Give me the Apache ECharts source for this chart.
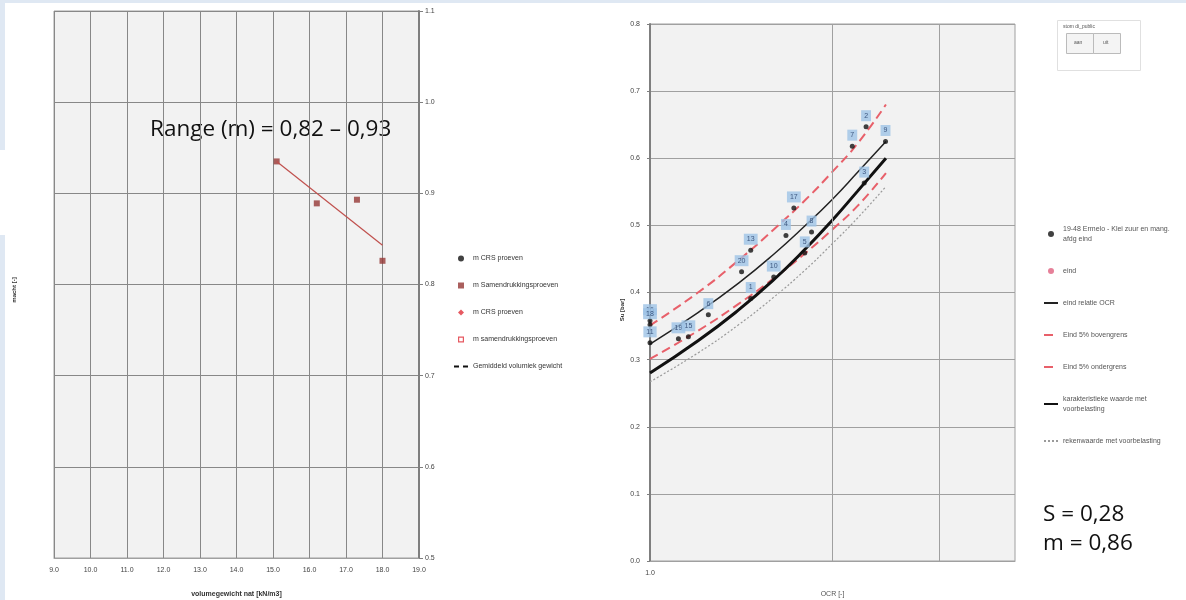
<!DOCTYPE html>
<html>
<head>
<meta charset="utf-8">
<script src="https://cdn.jsdelivr.net/npm/echarts@6/dist/echarts.min.js"></script>
<style>
  html, body { margin: 0; padding: 0; background: #fff; }
  #chart { width: 1186px; height: 600px; }
</style>
</head>
<body>
<div id="chart"></div>
<script>
// ---- links: macht m tegen volumegewicht ----
const densX = [15.1, 16.2, 17.3, 18.0];
const machtM = [0.935, 0.889, 0.893, 0.826];
const trendX = [15.1, 18.0];
const trendM = [0.935, 0.843];

// ---- rechts: Su tegen OCR ----
const ptOcr = [1.0, 1.0, 1.0, 1.114, 1.157, 1.248, 1.416, 1.466, 1.466, 1.60, 1.676, 1.727, 1.80, 1.847, 2.156, 2.272, 2.256, 2.446];
const ptSu  = [0.358, 0.352, 0.325, 0.331, 0.334, 0.367, 0.431, 0.463, 0.391, 0.423, 0.485, 0.526, 0.459, 0.490, 0.618, 0.647, 0.563, 0.625];
const ptNr  = ['16', '18', '11', '19', '15', '6', '20', '13', '1', '10', '4', '17', '5', '8', '7', '2', '3', '9'];

const curveOcr = [1.0, 1.2, 1.4, 1.6, 1.8, 2.0, 2.2, 2.45];
const eindRel  = [0.323, 0.370, 0.414, 0.457, 0.499, 0.539, 0.579, 0.625];
const eindBoven = [0.351, 0.400, 0.448, 0.494, 0.537, 0.580, 0.622, 0.680];
const eindOnder = [0.301, 0.343, 0.383, 0.421, 0.458, 0.494, 0.529, 0.578];
const karakt   = [0.280, 0.328, 0.374, 0.419, 0.464, 0.508, 0.551, 0.600];
const reken    = [0.267, 0.310, 0.352, 0.393, 0.433, 0.473, 0.511, 0.558];
const extraGridOcr = [2, 3];

const zip = (a, b) => a.map((v, i) => [v, b[i]]);
const small = { fontFamily: 'Liberation Sans', fontSize: 7, color: '#444' };
const gridCol = '#a0a0a0';
const squareIcon = 'path://M0,0h10v10h-10z';
const hollowSquareIcon = 'path://M0,0h10v10h-10z M2,2v6h6v-6z';
const diamondIcon = 'path://M5,0L10,5L5,10L0,5z';
const noSymbol = { opacity: 0 };

let myChart = echarts.init(document.getElementById('chart'));
const option = {
  animation: false,
  textStyle: { fontFamily: 'Liberation Sans' },
  grid: [
    { left: 54, top: 11, width: 365, height: 547, outerBoundsMode: 'none', show: true, backgroundColor: '#f2f2f2', borderColor: gridCol, borderWidth: 1 },
    { left: 650, top: 24, width: 365, height: 537, outerBoundsMode: 'none', show: true, backgroundColor: '#f2f2f2', borderColor: gridCol, borderWidth: 1 }
  ],
  xAxis: [
    {
      gridIndex: 0, type: 'value', min: 9, max: 19, interval: 1,
      name: 'volumegewicht nat [kN/m3]', nameLocation: 'middle', nameGap: 33,
      nameTextStyle: { fontSize: 7, fontWeight: 'bold', color: '#333' },
      axisLine: { show: true, lineStyle: { color: gridCol } },
      axisTick: { show: false },
      axisLabel: Object.assign({ margin: 9, formatter: v => v.toFixed(1) }, small),
      splitLine: { show: true, lineStyle: { color: '#888', width: 1 } }
    },
    {
      gridIndex: 1, type: 'log', logBase: 10, min: 1, max: 4,
      name: 'OCR [-]', nameLocation: 'middle', nameGap: 30,
      nameTextStyle: { fontSize: 7, color: '#555' },
      axisLine: { show: true, lineStyle: { color: gridCol } },
      axisTick: { show: false },
      axisLabel: Object.assign({ margin: 9, formatter: v => (v === 1 ? '1.0' : '') }, small),
      splitLine: { show: false }
    }
  ],
  yAxis: [
    {
      gridIndex: 0, type: 'value', min: 0.5, max: 1.1, interval: 0.1, position: 'right',
      axisLine: { show: true, lineStyle: { color: '#7f7f7f', width: 2 } },
      axisTick: { show: true, length: 4, lineStyle: { color: '#7f7f7f' } },
      axisLabel: Object.assign({ margin: 6, formatter: v => v.toFixed(1) }, small),
      splitLine: { show: true, lineStyle: { color: '#888', width: 1 } }
    },
    {
      gridIndex: 1, type: 'value', min: 0, max: 0.8, interval: 0.1,
      axisLine: { show: true, lineStyle: { color: '#7f7f7f', width: 2 } },
      axisTick: { show: true, length: 3, lineStyle: { color: '#7f7f7f' } },
      axisLabel: Object.assign({ margin: 10, formatter: v => v.toFixed(1) }, small),
      splitLine: { show: true, lineStyle: { color: gridCol, width: 1 } }
    }
  ],
  legend: [
    {
      left: 448, top: 249, orient: 'vertical', itemGap: 18, itemWidth: 14, itemHeight: 6,
      textStyle: { fontSize: 7, color: '#333', lineHeight: 9 },
      data: [
        { name: 'm CRS proeven', icon: 'circle' },
        { name: 'm Samendrukkingsproeven', icon: squareIcon },
        { name: 'm CRS proeven ', icon: diamondIcon },
        { name: 'm samendrukkingsproeven', icon: hollowSquareIcon },
        { name: 'Gemiddeld volumiek gewicht', itemStyle: noSymbol }
      ]
    },
    {
      left: 1038, top: 219, orient: 'vertical', itemGap: 22, itemWidth: 14, itemHeight: 6,
      textStyle: { fontSize: 7, color: '#555', width: 122, overflow: 'break', lineHeight: 10 },
      data: [
        { name: '19-48 Ermelo - Klei zuur en mang. afdg eind', icon: 'circle' },
        { name: 'eind', icon: 'circle' },
        { name: 'eind relatie OCR', itemStyle: noSymbol },
        { name: 'Eind 5% bovengrens', itemStyle: noSymbol },
        { name: 'Eind 5% ondergrens', itemStyle: noSymbol },
        { name: 'karakteristieke waarde met voorbelasting', itemStyle: noSymbol },
        { name: 'rekenwaarde met voorbelasting', itemStyle: noSymbol }
      ]
    }
  ],
  series: [
    // links
    { name: 'm CRS proeven', type: 'scatter', xAxisIndex: 0, yAxisIndex: 0, symbol: 'circle', symbolSize: 5, itemStyle: { color: '#111' }, data: [] },
    { name: 'trend', type: 'line', xAxisIndex: 0, yAxisIndex: 0, symbol: 'none', lineStyle: { color: '#c0504d', width: 1.2 }, data: zip(trendX, trendM) },
    { name: 'm Samendrukkingsproeven', type: 'scatter', xAxisIndex: 0, yAxisIndex: 0, symbol: 'rect', symbolSize: 6, itemStyle: { color: '#953735' }, data: zip(densX, machtM) },
    { name: 'm CRS proeven ', type: 'scatter', xAxisIndex: 0, yAxisIndex: 0, symbol: 'diamond', symbolSize: 8, itemStyle: { color: '#e0303a' }, data: [] },
    { name: 'm samendrukkingsproeven', type: 'scatter', xAxisIndex: 0, yAxisIndex: 0, symbol: 'rect', symbolSize: 7, itemStyle: { color: '#e0303a' }, data: [] },
    { name: 'Gemiddeld volumiek gewicht', type: 'line', xAxisIndex: 0, yAxisIndex: 0, symbol: 'none', itemStyle: { color: '#111' }, lineStyle: { color: '#111', width: 1.5, type: [5, 4] }, data: [] },
    // rechts
    {
      name: 'rekenwaarde met voorbelasting', type: 'line', xAxisIndex: 1, yAxisIndex: 1, symbol: 'none', smooth: true,
      itemStyle: { color: '#9a9a9a' },
      lineStyle: { color: '#9a9a9a', width: 1.2, type: [2, 2] }, data: zip(curveOcr, reken),
      markLine: {
        silent: true, symbol: ['none', 'none'], label: { show: false },
        lineStyle: { color: gridCol, width: 1, type: 'solid' },
        data: extraGridOcr.map(v => ({ xAxis: v }))
      }
    },
    { name: 'Eind 5% ondergrens', type: 'line', xAxisIndex: 1, yAxisIndex: 1, symbol: 'none', smooth: true, lineStyle: { color: '#e8606a', width: 2, type: [9, 5] }, itemStyle: { color: '#e8606a' }, data: zip(curveOcr, eindOnder) },
    { name: 'Eind 5% bovengrens', type: 'line', xAxisIndex: 1, yAxisIndex: 1, symbol: 'none', smooth: true, lineStyle: { color: '#e8606a', width: 2, type: [9, 5] }, itemStyle: { color: '#e8606a' }, data: zip(curveOcr, eindBoven) },
    { name: 'karakteristieke waarde met voorbelasting', type: 'line', xAxisIndex: 1, yAxisIndex: 1, symbol: 'none', smooth: true, lineStyle: { color: '#111', width: 3 }, itemStyle: { color: '#111' }, data: zip(curveOcr, karakt) },
    { name: 'eind relatie OCR', type: 'line', xAxisIndex: 1, yAxisIndex: 1, symbol: 'none', smooth: true, lineStyle: { color: '#222', width: 1.5 }, itemStyle: { color: '#222' }, data: zip(curveOcr, eindRel) },
    { name: 'eind', type: 'scatter', xAxisIndex: 1, yAxisIndex: 1, symbolSize: 6, itemStyle: { color: '#e06080' }, data: [] },
    {
      name: '19-48 Ermelo - Klei zuur en mang. afdg eind', type: 'scatter', xAxisIndex: 1, yAxisIndex: 1, z: 5,
      symbol: 'circle', symbolSize: 5, itemStyle: { color: '#111' },
      data: ptOcr.map((o, i) => [o, ptSu[i], ptNr[i]]),
      label: {
        show: true, position: 'top', distance: 3, formatter: p => p.value[2],
        fontSize: 7, color: '#1f3864', backgroundColor: '#9dc3e6', padding: [2, 3, 2, 3]
      }
    }
  ],
  graphic: [
    { type: 'rect', left: 0, top: 0, shape: { width: 1186, height: 3 }, style: { fill: '#dfe8f3' } },
    { type: 'rect', left: 0, top: 0, shape: { width: 5, height: 150 }, style: { fill: '#dfe8f3' } },
    { type: 'rect', left: 0, top: 235, shape: { width: 5, height: 365 }, style: { fill: '#dfe8f3' } },
    { type: 'text', left: 150, top: 118, style: { text: 'Range (m) = 0,82 \u2013 0,93', fontFamily: 'Open Sans', fontSize: 22.5, fill: '#111' } },
    { type: 'text', left: 1043, top: 503, style: { text: 'S = 0,28', fontFamily: 'Open Sans', fontSize: 22.5, fill: '#111' } },
    { type: 'text', left: 1043, top: 532, style: { text: 'm = 0,86', fontFamily: 'Open Sans', fontSize: 22.5, fill: '#111' } },
    { type: 'text', x: 14, y: 290, rotation: Math.PI / 2, style: { text: 'macht [-]', fontSize: 6, fontWeight: 'bold', fill: '#333', align: 'center', verticalAlign: 'middle' } },
    { type: 'text', x: 622, y: 310, rotation: Math.PI / 2, style: { text: 'Su [bar]', fontSize: 6, fontWeight: 'bold', fill: '#333', align: 'center', verticalAlign: 'middle' } },
    // knoppenvak
    { type: 'rect', left: 1057, top: 20, shape: { width: 83, height: 50 }, style: { fill: '#fff', stroke: '#e0e0e0' } },
    { type: 'text', left: 1063, top: 24, style: { text: 'stom di_public', fontSize: 5, fill: '#555' } },
    { type: 'rect', left: 1066, top: 33, shape: { width: 27, height: 20 }, style: { fill: '#f4f4f4', stroke: '#bbb' } },
    { type: 'rect', left: 1093, top: 33, shape: { width: 27, height: 20 }, style: { fill: '#f4f4f4', stroke: '#bbb' } },
    { type: 'text', left: 1074, top: 40, style: { text: 'aan', fontSize: 5, fill: '#555' } },
    { type: 'text', left: 1103, top: 40, style: { text: 'uit', fontSize: 5, fill: '#555' } }
  ]
};
myChart.setOption(option);
</script>
</body>
</html>
